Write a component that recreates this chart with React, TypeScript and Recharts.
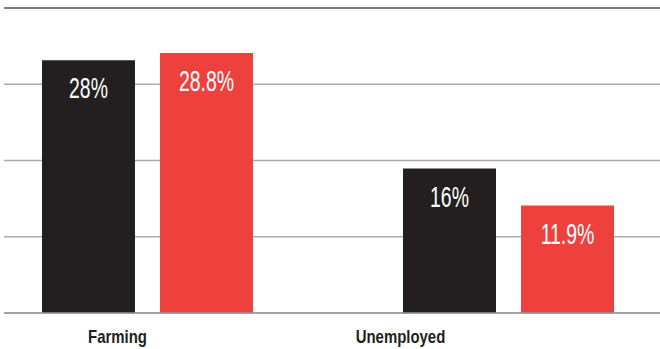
import { BarChart, Bar, XAxis, YAxis, CartesianGrid, ReferenceLine, LabelList } from 'recharts';

const categories = ['Farming', 'Unemployed'];
const seriesA = [28, 16];
const seriesB = [28.8, 11.9];
const yTicks = [0, 8.45, 16.9, 25.35, 33.8];

// horizontal nudge of each category label, relative to its bar group
const tickShift = [-30, -108];

const data = categories.map((name, i) => ({ name, a: seriesA[i], b: seriesB[i] }));

const BLACK = '#231f20';
const RED = '#ee403c';

function BarValue(props: any) {
  const { x, y, width, value } = props;
  const cx = Number(x) + Number(width) / 2;
  const by = Number(y) + 38;
  return (
    <text
      transform={`translate(${cx},${by}) scale(0.67,1)`}
      textAnchor="middle"
      fill="#fff"
      fontSize={29}
      fontFamily="'Liberation Sans', Arial, sans-serif"
    >
      {value}%
    </text>
  );
}

function CategoryTick(props: any) {
  const { x, y, payload, index } = props;
  const cx = Number(x) + (tickShift[index] ?? 0);
  return (
    <text
      transform={`translate(${cx},${Number(y) + 22}) scale(0.83,1)`}
      textAnchor="middle"
      fill={BLACK}
      fontSize={18}
      fontWeight="bold"
      fontFamily="'Liberation Sans', Arial, sans-serif"
    >
      {payload.value}
    </text>
  );
}

export default function App() {
  return (
    <div style={{ width: 660, height: 349 }}>
      <style>{`body{margin:0}`}</style>
      <BarChart
        width={660}
        height={349}
        data={data}
        margin={{ top: 8, right: 0, left: 4, bottom: 0 }}
        barSize={93}
        barGap={25}
      >
        <CartesianGrid horizontal vertical={false} stroke="#aaa" strokeWidth={1.5} />
        <XAxis
          dataKey="name"
          height={36}
          padding={{ left: -37, right: -29 }}
          tickLine={false}
          axisLine={{ stroke: '#999', strokeWidth: 1.5 }}
          tick={<CategoryTick />}
          interval={0}
        />
        <YAxis hide domain={[0, 33.8]} ticks={yTicks} />
        <ReferenceLine y={33.8} stroke="#666" strokeWidth={1.5} />
        <Bar dataKey="a" fill={BLACK} isAnimationActive={false}>
          <LabelList dataKey="a" content={<BarValue />} />
        </Bar>
        <Bar dataKey="b" fill={RED} isAnimationActive={false}>
          <LabelList dataKey="b" content={<BarValue />} />
        </Bar>
      </BarChart>
    </div>
  );
}
